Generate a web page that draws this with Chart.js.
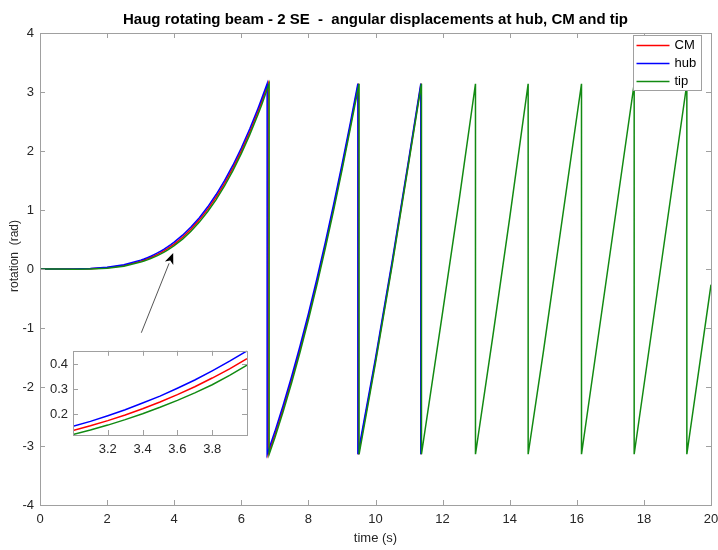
<!DOCTYPE html>
<html lang="en">
<head>
<meta charset="UTF-8" />
<title>Haug rotating beam</title>
<script src="https://cdn.jsdelivr.net/npm/chart.js"></script>
<style>
  body { margin: 0; background: #fff; }
  #wrap { position: relative; width: 718px; height: 550px; }
  #mainChart { position: absolute; left: 0; top: 0; }
  #insetChart { position: absolute; left: 40px; top: 338px; }
</style>
</head>
<body>
<div id="wrap">
  <canvas id="mainChart" width="718" height="550"></canvas>
  <canvas id="insetChart" width="215" height="122"></canvas>
</div>
<script>
// angular displacement (rad), wrapped to [-pi, pi]
const tHub = [0, 0.5, 1, 1.5, 2, 2.5, 3.0, 3.1, 3.2, 3.3, 3.4, 3.5, 3.6, 3.7, 3.8, 3.9, 4.0,
  4.25, 4.5, 4.75, 5, 5.25, 5.5, 5.75, 6, 6.25, 6.5, 6.6, 6.77, 6.77,
  7, 7.25, 7.5, 7.75, 8, 8.25, 8.5, 8.75, 9, 9.25, 9.475, 9.475, 10, 10.5, 11, 11.351, 11.351];
const hub = [0, 0, 0.002, 0.010, 0.030, 0.073, 0.150, 0.170, 0.193, 0.217, 0.244, 0.272, 0.304, 0.337, 0.374, 0.413, 0.455,
  0.573, 0.711, 0.870, 1.054, 1.262, 1.497, 1.759, 2.051, 2.372, 2.725, 2.875, 3.14, -3.14,
  -2.756, -2.306, -1.822, -1.306, -0.756, -0.173, 0.443, 1.089, 1.768, 2.476, 3.14, -3.14, -1.512, 0.145, 1.890, 3.14, -3.14];

const tCM = [0, 0.5, 1, 1.5, 2, 2.5, 3.0, 3.1, 3.2, 3.3, 3.4, 3.5, 3.6, 3.7, 3.8, 3.9, 4.0,
  4.25, 4.5, 4.75, 5, 5.25, 5.5, 5.75, 6, 6.25, 6.5, 6.6, 6.80, 6.80,
  7, 7.25, 7.5, 7.75, 8, 8.25, 8.5, 8.75, 9, 9.25, 9.49, 9.49, 10, 10.5, 11, 11.36, 11.36];
const cm = [0, 0, 0.000, 0.006, 0.021, 0.060, 0.133, 0.152, 0.173, 0.196, 0.221, 0.248, 0.278, 0.310, 0.345, 0.382, 0.423,
  0.538, 0.676, 0.833, 1.014, 1.219, 1.452, 1.713, 2.003, 2.322, 2.674, 2.824, 3.14, -3.14,
  -2.809, -2.359, -1.875, -1.359, -0.809, -0.226, 0.392, 1.039, 1.720, 2.430, 3.14, -3.14, -1.552, 0.110, 1.861, 3.14, -3.14];

const tTip = [0, 0.5, 1, 1.5, 2, 2.5, 3.0, 3.1, 3.2, 3.3, 3.4, 3.5, 3.6, 3.7, 3.8, 3.9, 4.0,
  4.25, 4.5, 4.75, 5, 5.25, 5.5, 5.75, 6, 6.25, 6.5, 6.6, 6.83, 6.83,
  7, 7.25, 7.5, 7.75, 8, 8.25, 8.5, 8.75, 9, 9.25, 9.51, 9.51, 10, 10.5, 11, 11.37, 11.37,
  12, 12.5, 12.98, 12.98, 13.5, 14, 14.55, 14.55, 15, 16.14, 16.14, 17.71, 17.71, 19.28, 19.28, 20];
const tip = [0, 0, -0.003, 0.002, 0.013, 0.046, 0.117, 0.135, 0.155, 0.177, 0.201, 0.227, 0.255, 0.285, 0.318, 0.356, 0.397,
  0.507, 0.641, 0.795, 0.974, 1.177, 1.407, 1.666, 1.955, 2.273, 2.623, 2.772, 3.14, -3.14,
  -2.861, -2.412, -1.929, -1.412, -0.861, -0.278, 0.343, 0.990, 1.672, 2.384, 3.14, -3.14, -1.592, 0.075, 1.831, 3.14, -3.14,
  -0.737, 1.196, 3.14, -3.14, -1.13, 0.865, 3.14, -3.14, -1.416, 3.14, -3.14, 3.14, -3.14, 3.14, -3.14, -0.265];

const xTicks = [0, 2, 4, 6, 8, 10, 12, 14, 16, 18, 20];
const yTicks = [-4, -3, -2, -1, 0, 1, 2, 3, 4];
const insetXTicks = [3.2, 3.4, 3.6, 3.8];
const insetYTicks = [0.2, 0.3, 0.4];
const arrowStart = [3.02, -1.08];
const arrowEnd = [3.97, 0.27];

const seriesNames = ["CM", "hub", "tip"];
const seriesColors = ["#ff0000", "#0000ff", "#128a12"];
const titleText = "Haug rotating beam - 2 SE  -  angular displacements at hub, CM and tip";
const yTitle = "rotation  (rad)";

const FONT = "'Liberation Sans', Arial, sans-serif";
const TEXT = "#262626";
const AXIS = "#a0a0a0";

function toPoints(xs, ys) {
  return xs.map((x, i) => ({ x: x, y: ys[i] }));
}

function makeDatasets() {
  const sets = [[tCM, cm], [tHub, hub], [tTip, tip]];
  return sets.map((s, i) => ({
    label: seriesNames[i],
    data: toPoints(s[0], s[1]),
    borderColor: seriesColors[i],
    backgroundColor: seriesColors[i],
    borderWidth: 1.5,
    pointRadius: 0,
    showLine: true,
    fill: false,
    tension: 0,
    order: 2 - i,
  }));
}

// white box with inward ticks, matlab style
const boxTicks = {
  id: "boxTicks",
  beforeDatasetsDraw(chart) {
    const a = chart.chartArea;
    const ctx = chart.ctx;
    ctx.save();
    ctx.fillStyle = "#fff";
    ctx.fillRect(a.left, a.top, a.right - a.left, a.bottom - a.top);
    ctx.restore();
  },
  afterDatasetsDraw(chart) {
    const a = chart.chartArea;
    const ctx = chart.ctx;
    const len = 5;
    ctx.save();
    ctx.strokeStyle = AXIS;
    ctx.lineWidth = 1;
    ctx.beginPath();
    chart.scales.x.ticks.forEach((t) => {
      const px = Math.round(chart.scales.x.getPixelForValue(t.value)) + 0.5;
      ctx.moveTo(px, a.bottom); ctx.lineTo(px, a.bottom - len);
      ctx.moveTo(px, a.top); ctx.lineTo(px, a.top + len);
    });
    chart.scales.y.ticks.forEach((t) => {
      const py = Math.round(chart.scales.y.getPixelForValue(t.value)) + 0.5;
      ctx.moveTo(a.left, py); ctx.lineTo(a.left + len, py);
      ctx.moveTo(a.right, py); ctx.lineTo(a.right - len, py);
    });
    ctx.stroke();
    ctx.strokeRect(Math.round(a.left) + 0.5, Math.round(a.top) + 0.5,
      Math.round(a.right - a.left), Math.round(a.bottom - a.top));
    ctx.restore();
  },
};

const extras = {
  id: "extras",
  afterDraw(chart) {
    const ctx = chart.ctx;
    const a = chart.chartArea;
    const sx = chart.scales.x, sy = chart.scales.y;
    ctx.save();

    // title, centred over the axes
    ctx.fillStyle = "#000";
    ctx.font = "bold 15px " + FONT;
    ctx.textAlign = "center";
    ctx.textBaseline = "middle";
    ctx.fillText(titleText, (a.left + a.right) / 2, 20);

    // y axis label
    ctx.save();
    ctx.translate(15, (a.top + a.bottom) / 2 - 13);
    ctx.rotate(-Math.PI / 2);
    ctx.fillStyle = TEXT;
    ctx.font = "12px " + FONT;
    ctx.fillText(yTitle, 0, 0);
    ctx.restore();
    ctx.textAlign = "left";

    // arrow
    const x0 = sx.getPixelForValue(arrowStart[0]), y0 = sy.getPixelForValue(arrowStart[1]);
    const x1 = sx.getPixelForValue(arrowEnd[0]), y1 = sy.getPixelForValue(arrowEnd[1]);
    const ang = Math.atan2(y1 - y0, x1 - x0);
    const hl = 11, hw = 4.5;
    const bx = x1 - hl * Math.cos(ang), by = y1 - hl * Math.sin(ang);
    ctx.strokeStyle = "#555";
    ctx.lineWidth = 1;
    ctx.beginPath();
    ctx.moveTo(x0, y0);
    ctx.lineTo(bx, by);
    ctx.stroke();
    ctx.fillStyle = "#000";
    ctx.beginPath();
    ctx.moveTo(x1, y1);
    ctx.lineTo(bx + hw * Math.sin(ang), by - hw * Math.cos(ang));
    ctx.lineTo(x1 - (hl - 3) * Math.cos(ang), y1 - (hl - 3) * Math.sin(ang));
    ctx.lineTo(bx - hw * Math.sin(ang), by + hw * Math.cos(ang));
    ctx.closePath();
    ctx.fill();

    // legend box
    const lw = 68, lh = 55;
    const lx = Math.round(a.right - 10 - lw) + 0.5, ly = Math.round(a.top + 2) + 0.5;
    ctx.fillStyle = "#fff";
    ctx.fillRect(lx, ly, lw, lh);
    ctx.strokeStyle = AXIS;
    ctx.strokeRect(lx, ly, lw, lh);
    ctx.font = "13px " + FONT;
    ctx.textBaseline = "middle";
    seriesNames.forEach((name, i) => {
      const yy = ly + 10 + i * 18;
      ctx.strokeStyle = seriesColors[i];
      ctx.lineWidth = 1.5;
      ctx.beginPath();
      ctx.moveTo(lx + 3, yy);
      ctx.lineTo(lx + 36, yy);
      ctx.stroke();
      ctx.fillStyle = "#000";
      ctx.fillText(name, lx + 41, yy);
    });
    ctx.restore();
  },
};

const mainChart = new Chart(document.getElementById("mainChart"), {
  type: "scatter",
  data: { datasets: makeDatasets() },
  options: {
    responsive: false,
    animation: false,
    layout: { padding: { top: 33, right: 0, left: 0, bottom: 0 } },
    plugins: {
      legend: { display: false },
      tooltip: { enabled: false },
    },
    scales: {
      x: {
        type: "linear",
        min: 0,
        max: 20,
        afterBuildTicks: (s) => { s.ticks = xTicks.map((v) => ({ value: v })); },
        grid: { display: false, drawTicks: false, tickLength: 0 },
        border: { display: false },
        ticks: { color: TEXT, font: { family: FONT, size: 13 }, padding: 7, maxRotation: 0 },
        title: { display: true, text: "time (s)", color: TEXT, font: { family: FONT, size: 13 }, padding: { top: 2, bottom: 4 } },
        afterFit: (s) => { s.height = 45; s.paddingRight = 7; s.paddingLeft = 0; },
      },
      y: {
        type: "linear",
        min: -4,
        max: 4,
        afterBuildTicks: (s) => { s.ticks = yTicks.map((v) => ({ value: v })); },
        grid: { display: false, drawTicks: false, tickLength: 0 },
        border: { display: false },
        ticks: { color: TEXT, font: { family: FONT, size: 13 }, padding: 6 },
        afterFit: (s) => { s.width = 40; },
      },
    },
  },
  plugins: [boxTicks, extras],
});

const insetChart = new Chart(document.getElementById("insetChart"), {
  type: "scatter",
  data: { datasets: makeDatasets().map((d) => Object.assign(d, { clip: 0 })) },
  options: {
    responsive: false,
    animation: false,
    layout: { padding: { top: 9, right: 8, left: 0, bottom: 0 } },
    plugins: { legend: { display: false }, tooltip: { enabled: false } },
    scales: {
      x: {
        type: "linear",
        min: 3,
        max: 4,
        afterBuildTicks: (s) => { s.ticks = insetXTicks.map((v) => ({ value: v })); },
        grid: { display: false, drawTicks: false, tickLength: 0 },
        border: { display: false },
        ticks: { color: TEXT, font: { family: FONT, size: 13 }, padding: 7, maxRotation: 0 },
        afterFit: (s) => { s.height = 25; },
      },
      y: {
        type: "linear",
        min: 0.115,
        max: 0.455,
        afterBuildTicks: (s) => { s.ticks = insetYTicks.map((v) => ({ value: v })); },
        grid: { display: false, drawTicks: false, tickLength: 0 },
        border: { display: false },
        ticks: { color: TEXT, font: { family: FONT, size: 13 }, padding: 5 },
        afterFit: (s) => { s.width = 33; },
      },
    },
  },
  plugins: [boxTicks],
});
</script>
</body>
</html>
